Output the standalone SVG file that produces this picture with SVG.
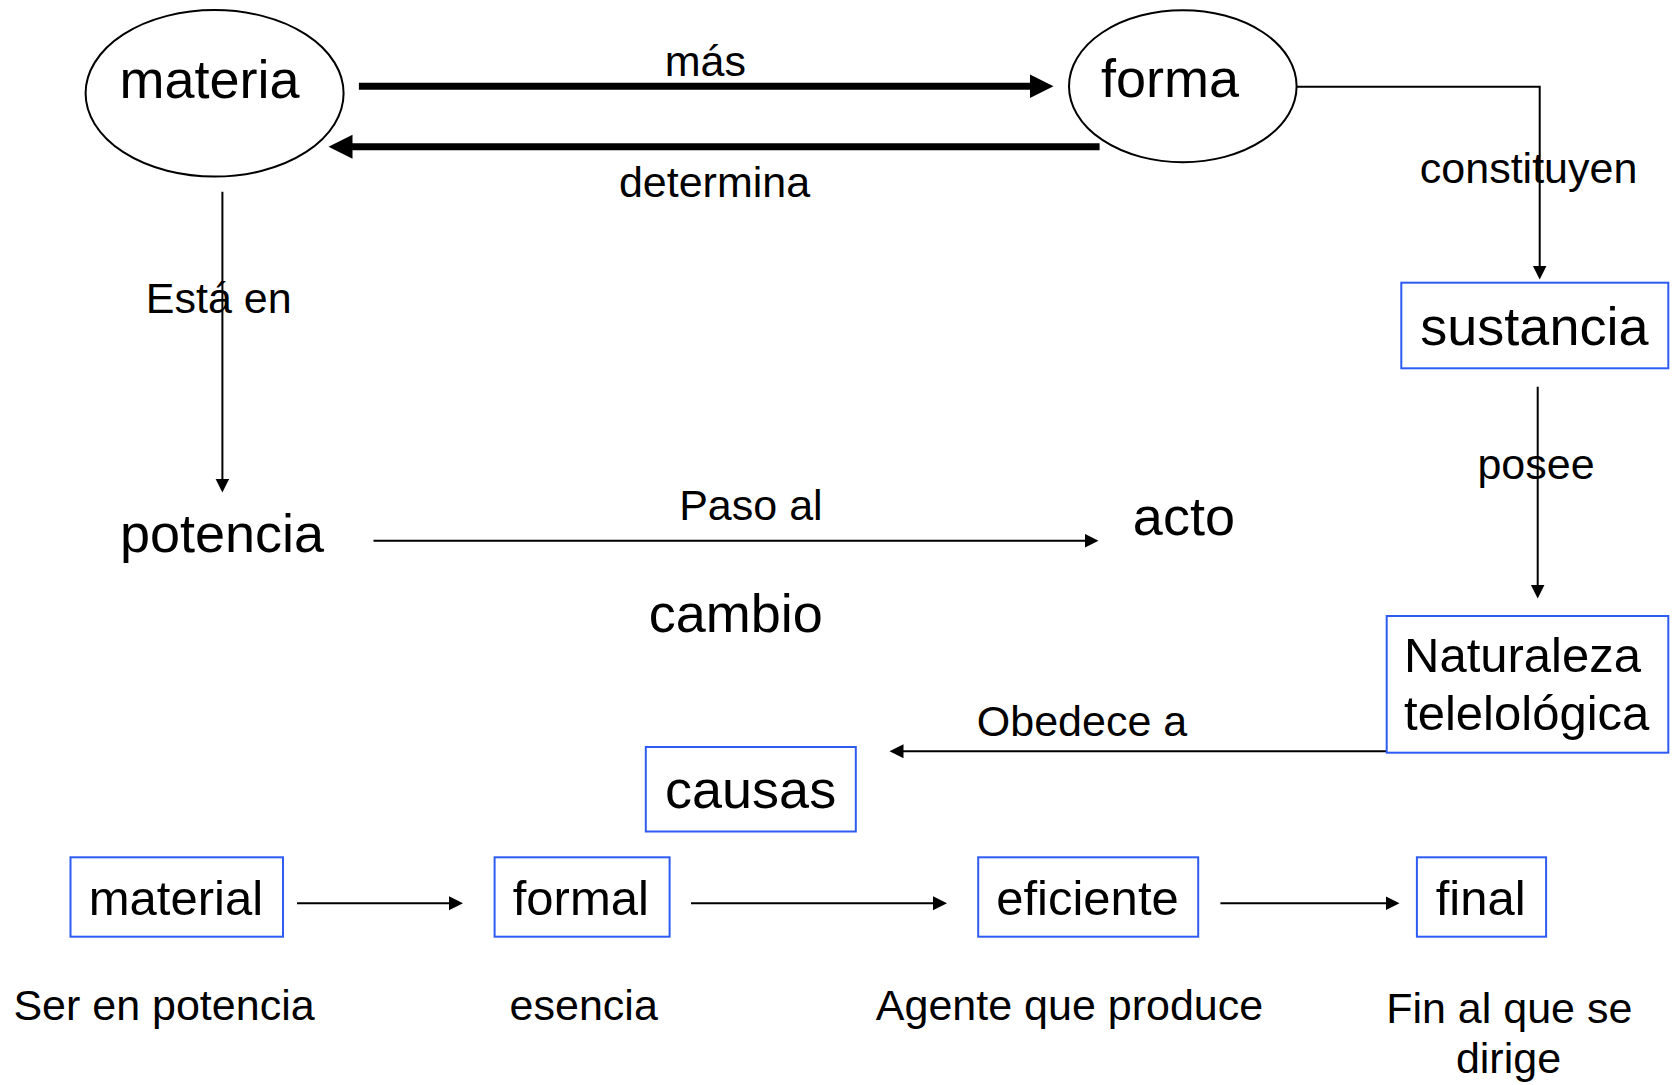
<svg xmlns="http://www.w3.org/2000/svg" width="1673" height="1085" viewBox="0 0 1673 1085">
<style>
text{font-family:"Liberation Sans",Arial,"Noto Sans",sans-serif;fill:#000;text-anchor:middle}
.big{font-size:54px}
.mid{font-size:49px}
.sm{font-size:43px}
.box{fill:#fff;stroke:#2e5cf2;stroke-width:2}
.ell{fill:#fff;stroke:#000;stroke-width:2}
.thin{fill:none;stroke:#000;stroke-width:2;marker-end:url(#ah)}
.thick{fill:none;stroke:#000;stroke-width:7;marker-end:url(#ahb)}
</style>
<defs>
<marker id="ah" markerUnits="userSpaceOnUse" markerWidth="16" markerHeight="16" refX="0.5" refY="7" orient="auto" viewBox="0 0 16 16">
<path d="M0,0 L14,7 L0,14 Z" fill="#000"/>
</marker>
<marker id="ahb" markerUnits="userSpaceOnUse" markerWidth="26" markerHeight="26" refX="0.5" refY="12" orient="auto" viewBox="0 0 26 26">
<path d="M0,0 L24,12 L0,24 Z" fill="#000"/>
</marker>
</defs>
<rect width="1673" height="1085" fill="#fff"/>
<g id="connectors">
<path class="thick" d="M358.9,86.3 H1030"/>
<path class="thick" d="M1099.6,146.7 H352"/>
<path class="thin" d="M1296.5,86.7 H1539.7 V266"/>
<path class="thin" d="M222.4,191.7 V479"/>
<path class="thin" d="M1537.7,386.7 V585"/>
<path class="thin" d="M373.5,540.7 H1085"/>
<path class="thin" d="M1386.7,751.2 H903"/>
<path class="thin" d="M297,903.3 H449.5"/>
<path class="thin" d="M691,903.3 H933.5"/>
<path class="thin" d="M1220.4,903.3 H1386"/>
<text class="sm" x="705.3" y="76">más</text>
<text class="sm" x="714.5" y="196.7">determina</text>
<text class="sm" x="1528.6" y="182.7">constituyen</text>
<text class="sm" x="218.7" y="313.3">Está en</text>
<text class="sm" x="1536" y="479">posee</text>
<text class="sm" x="750.9" y="520">Paso al</text>
<text class="sm" x="1082" y="736">Obedece a</text>
</g>
<g id="materia">
<ellipse class="ell" cx="214.6" cy="93.3" rx="129" ry="83.3"/>
<text class="big" x="209.5" y="97.7">materia</text>
</g>
<g id="forma">
<ellipse class="ell" cx="1182.8" cy="86.2" rx="113.8" ry="76"/>
<text class="big" x="1170" y="96.7">forma</text>
</g>
<g id="sustancia">
<rect class="box" x="1401.3" y="282.7" width="267" height="85.6"/>
<text class="big" x="1534.4" y="345">sustancia</text>
</g>
<g id="potencia">
<text class="big" x="222" y="551.7">potencia</text>
</g>
<g id="acto">
<text class="big" x="1183.9" y="535">acto</text>
</g>
<g id="cambio">
<text class="big" x="735.8" y="631.7">cambio</text>
</g>
<g id="naturaleza">
<rect class="box" x="1386.7" y="616" width="281.6" height="136.7"/>
<text class="mid" x="1522.5" y="671.7">Naturaleza</text>
<text class="mid" x="1526.7" y="730">telelológica</text>
</g>
<g id="causas">
<rect class="box" x="645.8" y="747" width="210" height="84.5"/>
<text class="big" x="750.6" y="807.7">causas</text>
</g>
<g id="material">
<rect class="box" x="70.5" y="857.3" width="212.5" height="79.4"/>
<text class="mid" x="175.9" y="915">material</text>
</g>
<g id="formal">
<rect class="box" x="494.6" y="857.3" width="175" height="79.4"/>
<text class="mid" x="580.8" y="915">formal</text>
</g>
<g id="eficiente">
<rect class="box" x="978.2" y="857.3" width="220" height="79.4"/>
<text class="mid" x="1087.5" y="915">eficiente</text>
</g>
<g id="final">
<rect class="box" x="1416.9" y="857.3" width="129.2" height="79.4"/>
<text class="mid" x="1480.7" y="915">final</text>
</g>
<g id="desc-material">
<text class="sm" x="164" y="1020">Ser en potencia</text>
</g>
<g id="desc-formal">
<text class="sm" x="583.7" y="1020">esencia</text>
</g>
<g id="desc-eficiente">
<text class="sm" x="1069.5" y="1020">Agente que produce</text>
</g>
<g id="desc-final">
<text class="sm" x="1509.3" y="1023.3">Fin al que se</text>
<text class="sm" x="1508.5" y="1073.3">dirige</text>
</g>
</svg>
